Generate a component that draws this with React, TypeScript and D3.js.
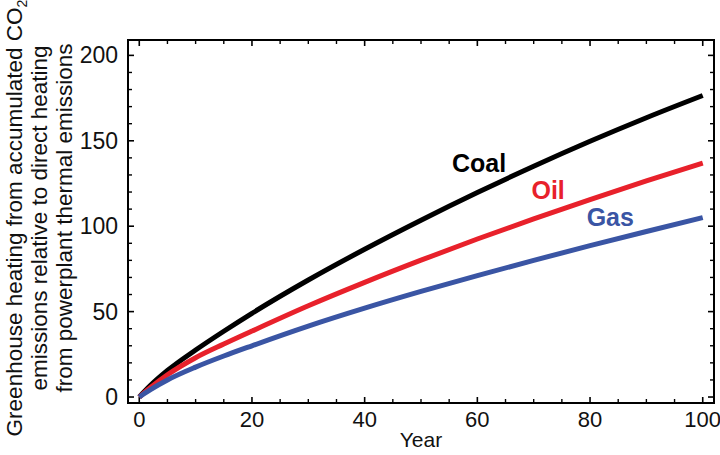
import React from "react";
import * as d3 from "d3";

const years = [0, 1, 2, 5, 10, 15, 20, 30, 40, 50, 60, 70, 80, 90, 100];
const coal = [0, 3.5, 6.8, 15.5, 27.5, 38.5, 49, 68.5, 86.5, 103.5, 119.7, 135.1, 149.7, 163.5, 176.5];
const oil = [0, 2.9, 5.6, 13, 23, 31, 38.6, 53.4, 67.1, 80.1, 92.5, 104.3, 115.6, 126.5, 137];
const gas = [0, 2.3, 4.4, 10, 17.5, 24, 30, 41.5, 52, 61.8, 71.1, 80, 88.6, 96.9, 105];

const series = [
  { name: "Coal", values: coal, color: "#000000", lx: 55.5, ly: 132 },
  { name: "Oil", values: oil, color: "#e8212b", lx: 69.6, ly: 116 },
  { name: "Gas", values: gas, color: "#3a55a4", lx: 79.4, ly: 100 },
];

const xMajor = [0, 20, 40, 60, 80, 100];
const yMajor = [0, 50, 100, 150, 200];
const yLabelLines = [
  "Greenhouse heating from accumulated CO",
  "emissions relative to direct heating",
  "from powerplant thermal emissions",
];

const W = 720;
const H = 455;
const left = 128;
const right = 714;
const top = 40;
const bottom = 403;

const App = () => {
  const x = d3.scaleLinear().domain([-2, 102]).range([left, right]);
  const y = d3.scaleLinear().domain([-3.5, 209]).range([bottom, top]);

  const xMinor = d3.range(0, 101, 5).filter((v) => !xMajor.includes(v));
  const yMinor = d3.range(0, 201, 10).filter((v) => !yMajor.includes(v));

  const line = d3
    .line<number>()
    .x((_, i) => x(years[i]))
    .y((d) => y(d))
    .curve(d3.curveMonotoneX);

  const font = "'Liberation Sans', Arial, sans-serif";
  const majLen = 6;
  const minLen = 4;

  return (
    <svg
      width={W}
      height={H}
      style={{ position: "absolute", left: 0, top: 0, display: "block", background: "#fff" }}
      fontFamily={font}
    >
      <defs>
        <clipPath id="plot">
          <rect x={left} y={top} width={right - left} height={bottom - top} />
        </clipPath>
      </defs>

      {/* ticks: bottom/top */}
      {xMajor.map((v) => (
        <g key={"xm" + v} stroke="#000" strokeWidth={1.6}>
          <line x1={x(v)} x2={x(v)} y1={bottom} y2={bottom - majLen} />
          <line x1={x(v)} x2={x(v)} y1={top} y2={top + majLen} />
        </g>
      ))}
      {xMinor.map((v) => (
        <g key={"xn" + v} stroke="#000" strokeWidth={1.4}>
          <line x1={x(v)} x2={x(v)} y1={bottom} y2={bottom - minLen} />
          <line x1={x(v)} x2={x(v)} y1={top} y2={top + minLen} />
        </g>
      ))}
      {/* ticks: left/right */}
      {yMajor.map((v) => (
        <g key={"ym" + v} stroke="#000" strokeWidth={1.6}>
          <line x1={left} x2={left + majLen} y1={y(v)} y2={y(v)} />
          <line x1={right} x2={right - majLen} y1={y(v)} y2={y(v)} />
        </g>
      ))}
      {yMinor.map((v) => (
        <g key={"yn" + v} stroke="#000" strokeWidth={1.4}>
          <line x1={left} x2={left + minLen} y1={y(v)} y2={y(v)} />
          <line x1={right} x2={right - minLen} y1={y(v)} y2={y(v)} />
        </g>
      ))}

      {/* curves */}
      <g clipPath="url(#plot)">
        {series.map((s) => (
          <path
            key={s.name}
            d={line(s.values) || ""}
            fill="none"
            stroke={s.color}
            strokeWidth={5}
            strokeLinecap="butt"
            strokeLinejoin="round"
          />
        ))}
      </g>

      {/* frame */}
      <rect
        x={left}
        y={top}
        width={right - left}
        height={bottom - top}
        fill="none"
        stroke="#000"
        strokeWidth={2}
      />

      {/* series labels */}
      {series.map((s) => (
        <text
          key={"l" + s.name}
          x={x(s.lx)}
          y={y(s.ly)}
          fill={s.color}
          fontSize={25}
          fontWeight="bold"
        >
          {s.name}
        </text>
      ))}

      {/* tick labels */}
      {xMajor.map((v) => (
        <text key={"xt" + v} x={x(v)} y={427} fontSize={22} textAnchor="middle" fill="#111">
          {v}
        </text>
      ))}
      {yMajor.map((v) => (
        <text
          key={"yt" + v}
          x={118}
          y={y(v) + 8}
          fontSize={23}
          textAnchor="end"
          fill="#111"
        >
          {v}
        </text>
      ))}

      {/* axis titles */}
      <text x={(left + right) / 2} y={447} fontSize={21} textAnchor="middle" fill="#111">
        Year
      </text>
      {yLabelLines.map((t, i) => (
        <text
          key={"yl" + i}
          transform={`translate(${22 + i * 25},${218}) rotate(-90)`}
          fontSize={22.5}
          textAnchor="middle"
          fill="#111"
        >
          {t}
          {i === 0 && (
            <tspan fontSize={14} dy={5}>
              2
            </tspan>
          )}
        </text>
      ))}
    </svg>
  );
};

export default App;
